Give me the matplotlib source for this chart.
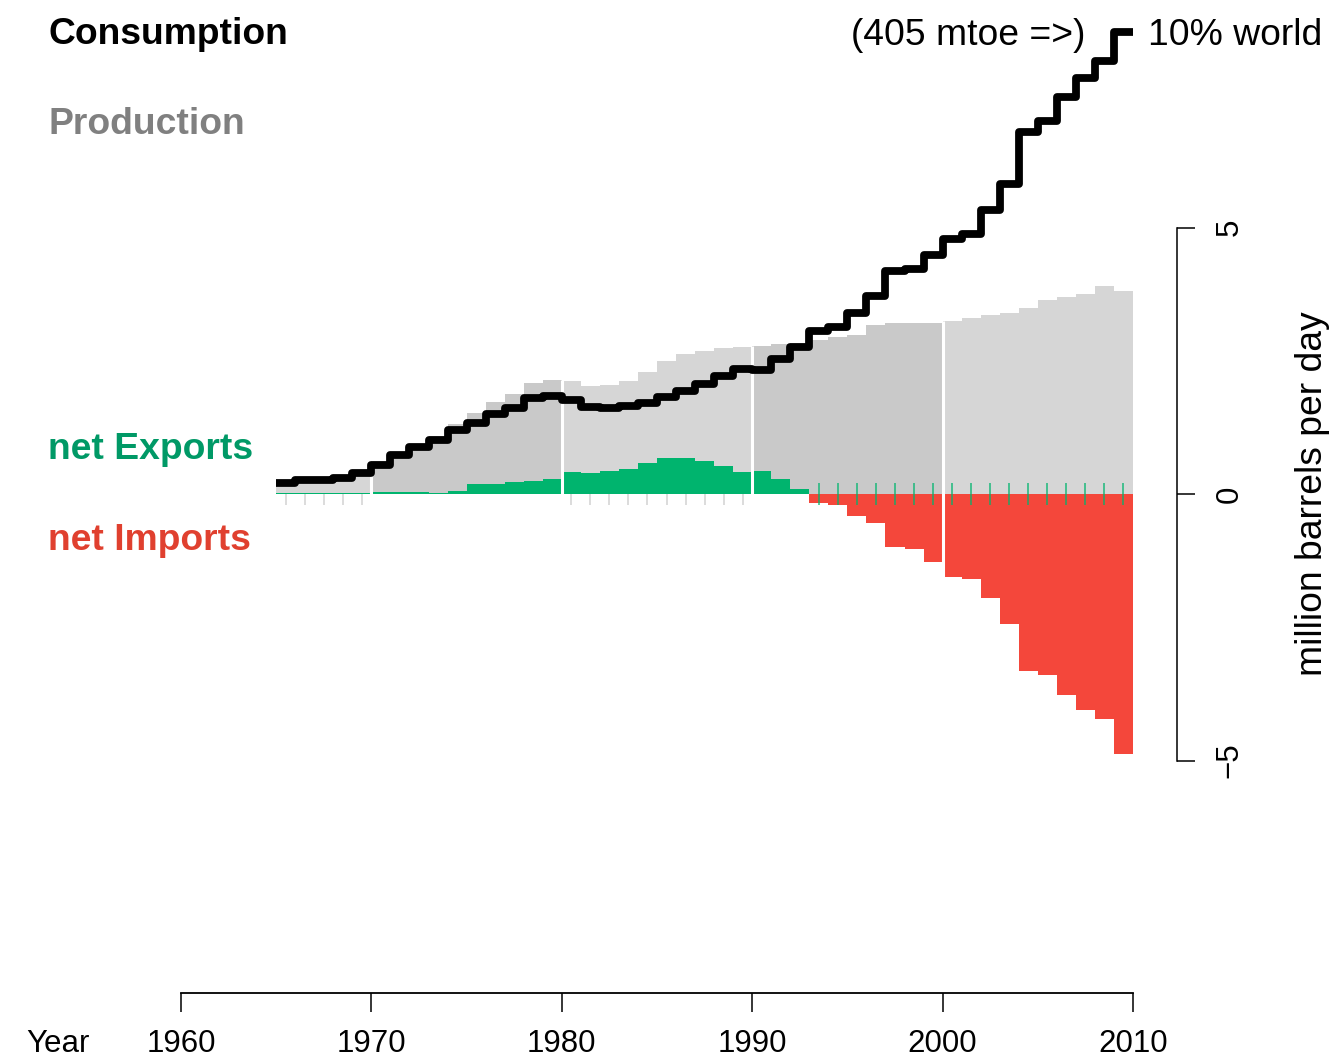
import numpy as np
import matplotlib
matplotlib.use("Agg")
import matplotlib.pyplot as plt

plt.rcParams['font.family'] = ['Liberation Sans', 'DejaVu Sans']

# Datos (millones de barriles por dia)
years = list(range(1965, 2010))
production = [0.23, 0.30, 0.29, 0.32, 0.42, 0.62, 0.79, 0.92, 1.09, 1.31,
              1.52, 1.72, 1.87, 2.08, 2.13, 2.12, 2.03, 2.04, 2.12, 2.28,
              2.50, 2.62, 2.68, 2.73, 2.76, 2.77, 2.82, 2.84, 2.89, 2.94,
              2.99, 3.17, 3.21, 3.21, 3.21, 3.25, 3.31, 3.35, 3.40, 3.49,
              3.64, 3.69, 3.75, 3.90, 3.80]
consumption = [0.21, 0.27, 0.27, 0.30, 0.39, 0.54, 0.73, 0.88, 1.01, 1.20,
               1.34, 1.51, 1.62, 1.80, 1.83, 1.76, 1.64, 1.62, 1.65, 1.70,
               1.82, 1.94, 2.06, 2.22, 2.34, 2.33, 2.53, 2.76, 3.05, 3.14,
               3.40, 3.71, 4.19, 4.23, 4.48, 4.78, 4.88, 5.32, 5.82, 6.80,
               7.00, 7.44, 7.80, 8.13, 8.66]
net_trade = [0.01, 0.01, 0.01, 0.02, 0.02, 0.04, 0.03, 0.03, 0.01, 0.06,
             0.19, 0.19, 0.22, 0.25, 0.29, 0.42, 0.40, 0.43, 0.47, 0.59,
             0.68, 0.68, 0.62, 0.53, 0.41, 0.44, 0.29, 0.09, -0.17, -0.21,
             -0.41, -0.55, -0.99, -1.04, -1.28, -1.55, -1.59, -1.96, -2.43, -3.33,
             -3.39, -3.77, -4.06, -4.22, -4.88]
decades = [1970, 1980, 1990, 2000]
x_ticks = [1960, 1970, 1980, 1990, 2000, 2010]
y_ticks = [-5, 0, 5]

# Colores
light_grey = '#D6D6D6'
dark_grey = '#C9C9C9'
green = '#00B46E'
red = '#F4473B'

W, H = 1335, 1062
fig = plt.figure(figsize=(W / 100, H / 100), dpi=100)
ax = fig.add_axes([181 / W, (H - 993) / H, (1133 - 181) / W, 993 / H])
ax.set_xlim(1960, 2010)
ax.set_ylim((494 - 993) / 53.3, 494 / 53.3)

# Produccion: barras grises, alternando por decada
shades = [dark_grey if (y // 10) % 2 == 1 else light_grey for y in years]
ax.bar(years, production, width=1, align='edge', color=shades, linewidth=0, zorder=1)

# Exportaciones / importaciones netas
trade_colors = [green if v > 0 else red for v in net_trade]
ax.bar(years, net_trade, width=1, align='edge', color=trade_colors, linewidth=0, zorder=2)

# Separadores blancos de decada
for d in decades:
    i = years.index(d)
    top = max(production[i - 1], production[i])
    bottom = min(net_trade[i - 1], net_trade[i], 0)
    ax.vlines(d, bottom, top, color='white', lw=2.2, zorder=3)

# Pequeñas marcas por año
for i, y in enumerate(years):
    if y < 1970 or 1980 <= y < 1990:
        ax.vlines(y + 0.5, -0.21, 0, color=light_grey, lw=1.2, zorder=3)
    elif net_trade[i] < 0:
        ax.vlines(y + 0.5, -0.2, 0.2, color=green, lw=1.2, alpha=0.8, zorder=3)

# Consumo: linea escalonada
edges = years + [2010]
ax.stairs(consumption, edges, baseline=None, color='black', lw=5.6,
          joinstyle='round', zorder=4)

# Ejes
for s in ['top', 'left']:
    ax.spines[s].set_visible(False)
ax.spines['bottom'].set_bounds(1960, 2010)
ax.spines['bottom'].set_linewidth(1.3)
ax.set_xticks(x_ticks)
ax.tick_params(axis='x', length=14, width=1.1, labelsize=22.5, pad=12)

ax.yaxis.tick_right()
ax.spines['right'].set_position(('axes', (1177 - 181) / (1133 - 181)))
ax.spines['right'].set_bounds(-5, 5)
ax.spines['right'].set_linewidth(1.1)
ax.set_yticks(y_ticks)
ax.tick_params(axis='y', length=13, width=1.1, labelsize=22.5, pad=14, labelrotation=90)
for lab in ax.get_yticklabels():
    lab.set_verticalalignment('center')

fig.text(1313 / W, 1 - 494 / H, 'million barrels per day', rotation=90,
         fontsize=26.8, ha='center', va='center')
fig.text(58 / W, 1 - 1044 / H, 'Year', fontsize=22.5, ha='center', va='center')

# Etiquetas
fig.text(48 / W, 1 - 34 / H, 'Consumption', fontsize=26.8, fontweight='bold',
         color='black', va='center')
fig.text(48 / W, 1 - 125 / H, 'Production', fontsize=26.8, fontweight='bold',
         color='#808080', va='center')
fig.text(48 / W, 1 - 449 / H, 'net Exports', fontsize=26.8, fontweight='bold',
         color='#009966', va='center')
fig.text(48 / W, 1 - 541 / H, 'net Imports', fontsize=26.8, fontweight='bold',
         color='#E0402F', va='center')

ax.text(2010.8, consumption[-1] - 0.06, '10% world', fontsize=26.8, ha='left', va='center')
ax.text(2007.5, consumption[-1] - 0.06, '(405 mtoe =>)', fontsize=26.8, ha='right', va='center')

fig.savefig('out.png', dpi=100)
